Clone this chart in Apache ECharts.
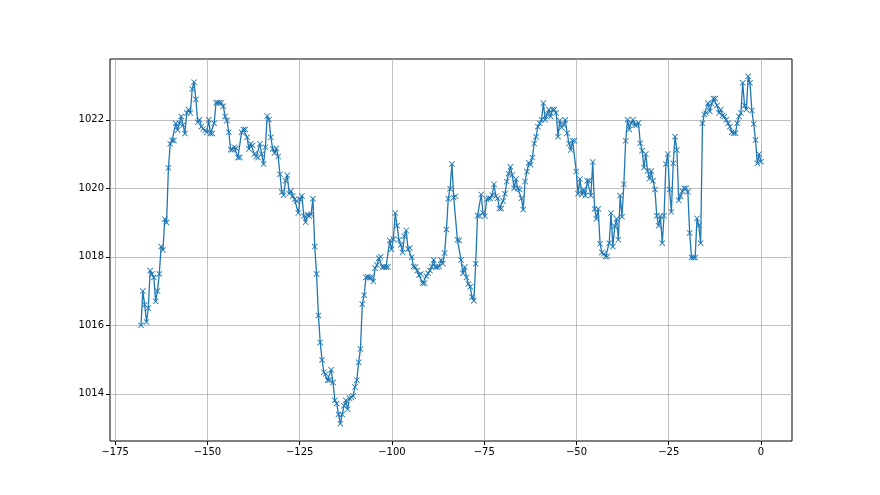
<!DOCTYPE html>
<html>
<head>
<meta charset="utf-8">
<script src="https://cdn.jsdelivr.net/npm/echarts@6/dist/echarts.min.js"></script>
<style>
  html, body { margin: 0; padding: 0; background: #fff; }
  #chart { width: 880px; height: 495px; }
</style>
</head>
<body>
<div id="chart"></div>
<script>
// hourly-ish pressure readings, first at -168, last at 0
const xStart = -168
const xEnd = 0
const pressure = [
  // -168 .. -145
  1016.0, 1017.0, 1016.6, 1016.1, 1016.5, 1017.6, 1017.5, 1017.4, 1016.7, 1017.0,
  1017.5, 1018.3, 1018.2, 1019.1, 1019.0, 1020.6, 1021.3, 1021.4, 1021.4, 1021.9,
  1021.7, 1021.9, 1022.1, 1021.85, 1021.6, 1022.2, 1022.3, 1022.2, 1022.9, 1023.1,
  1022.6, 1021.93, 1022.0, 1021.8, 1021.74, 1021.69, 1021.64, 1022.0, 1021.6, 1021.6,
  1021.9, 1022.5, 1022.5, 1022.5, 1022.5, 1022.4, 1022.1,
  // -144 .. -120
  1021.98, 1021.64, 1021.13, 1021.13, 1021.2, 1021.17, 1020.9, 1020.9, 1021.64, 1021.72,
  1021.72, 1021.49, 1021.15, 1021.3, 1021.25, 1021.0, 1020.93, 1020.9, 1021.3, 1021.0,
  1020.71, 1021.2, 1022.11, 1022.01, 1021.49, 1021.15, 1021.03, 1021.17, 1020.93, 1020.41,
  1019.89, 1019.8, 1020.22, 1020.38, 1019.85, 1019.92, 1019.78, 1019.68, 1019.63, 1019.28,
  1019.68, 1019.78, 1019.19, 1019.01, 1019.24, 1019.19, 1019.24, 1019.7, 1018.3, 1017.5,
  // -119 .. -97
  1016.29, 1015.5, 1014.99, 1014.63, 1014.58, 1014.4, 1014.4, 1014.7, 1014.33, 1013.81,
  1013.72, 1013.4, 1013.13, 1013.4, 1013.65, 1013.81, 1013.55, 1013.87, 1013.9, 1013.94,
  1014.2, 1014.4, 1014.92, 1015.31, 1016.62, 1016.88, 1017.4, 1017.42, 1017.4, 1017.4,
  1017.28, 1017.67, 1017.76, 1017.96, 1018.0, 1017.7, 1017.7, 1017.7, 1017.7, 1018.48,
  1018.22, 1018.52, 1019.28, 1018.91, 1018.5, 1018.35,
  // -96 .. -76
  1018.13, 1018.6, 1018.77, 1018.23, 1018.26, 1017.99, 1017.72, 1017.7, 1017.6, 1017.47,
  1017.5, 1017.23, 1017.23, 1017.44, 1017.52, 1017.6, 1017.72, 1017.91, 1017.7, 1017.7,
  1017.72, 1017.91, 1017.8, 1018.11, 1018.8, 1019.7, 1019.99, 1020.71, 1019.73, 1019.77,
  1018.5, 1018.48, 1017.91, 1017.52, 1017.7, 1017.4, 1017.21, 1017.13, 1016.83, 1016.72,
  1017.8, 1019.2, 1019.2, 1019.82,
  // -75 .. -49
  1019.28, 1019.19, 1019.68, 1019.71, 1019.71, 1019.8, 1020.12, 1019.77, 1019.71, 1019.41,
  1019.41, 1019.63, 1019.84, 1020.2, 1020.43, 1020.63, 1020.39, 1020.0, 1020.27, 1020.0,
  1019.97, 1019.71, 1019.38, 1020.2, 1020.49, 1020.75, 1020.69, 1020.9, 1021.31, 1021.51,
  1021.8, 1021.9, 1022.0, 1022.49, 1022.0, 1022.16, 1022.3, 1022.1, 1022.3, 1022.3,
  1022.2, 1021.51, 1021.98, 1021.78, 1021.86, 1022.0, 1021.61, 1021.31, 1021.12, 1021.39,
  1021.39, 1020.49, 1019.84,
  // -48 .. -25
  1020.27, 1019.82, 1019.97, 1019.79, 1020.22, 1020.22, 1019.79, 1020.77, 1019.4, 1019.11,
  1019.4, 1018.38, 1018.13, 1018.09, 1018.01, 1018.01, 1018.4, 1019.28, 1018.3, 1018.89,
  1019.11, 1018.5, 1019.79, 1019.17, 1020.12, 1021.39, 1022.0, 1021.72, 1021.91, 1022.0,
  1021.85, 1021.85, 1021.91, 1021.32, 1021.1, 1020.61, 1021.0, 1020.51, 1020.28, 1020.51,
  1020.22, 1019.97, 1019.2, 1018.91, 1019.19, 1018.4, 1019.2, 1020.71, 1021.0, 1019.97,
  // -24 .. 0
  1019.31, 1020.73, 1021.51, 1021.12, 1019.65, 1019.78, 1019.92, 1020.0, 1020.0, 1019.9,
  1018.7, 1017.98, 1017.98, 1017.98, 1019.12, 1018.92, 1018.4, 1021.9, 1022.16, 1022.2,
  1022.49, 1022.25, 1022.47, 1022.62, 1022.62, 1022.42, 1022.2, 1022.3, 1022.13, 1022.1,
  1022.0, 1021.9, 1021.8, 1021.64, 1021.61, 1021.61, 1021.9, 1022.1, 1022.2, 1023.08,
  1022.42, 1022.3, 1023.27, 1023.08, 1022.27, 1021.88, 1021.41, 1020.73, 1021.0, 1020.78
]
const xTicks = [-175, -150, -125, -100, -75, -50, -25, 0]
const yTicks = [1014, 1016, 1018, 1020, 1022]

const step = (xEnd - xStart) / (pressure.length - 1)
const points = pressure.map((v, i) => [xStart + i * step, v])

// matplotlib-like 5% margins
const yMin = Math.min(...pressure), yMax = Math.max(...pressure)
const xPad = (xEnd - xStart) * 0.05, yPad = (yMax - yMin) * 0.05

const crossMark = 'path://M0,1L1,0L5,4L9,0L10,1L6,5L10,9L9,10L5,6L1,10L0,9L4,5Z'
const axisText = { color: '#000', fontSize: 10, fontFamily: 'DejaVu Sans' }

const chart = echarts.init(document.getElementById('chart'))
chart.setOption({
  animation: false,
  grid: {
    left: 110, right: 88, top: 59, bottom: 54,
    show: true, borderColor: '#000', borderWidth: 1, backgroundColor: 'transparent',
  },
  xAxis: {
    type: 'value',
    min: xStart - xPad,
    max: xEnd + xPad,
    axisLine: { show: false, onZero: false },
    axisTick: { show: true, length: 4, inside: false, lineStyle: { color: '#000' }, customValues: xTicks },
    axisLabel: { ...axisText, margin: 6, customValues: xTicks, formatter: v => String(v).replace('-', '\u2212') },
    splitLine: { show: true, lineStyle: { color: '#b0b0b0', width: 0.8 } },
  },
  yAxis: {
    type: 'value',
    min: yMin - yPad,
    max: yMax + yPad,
    axisLine: { show: false, onZero: false },
    axisTick: { show: true, length: 4, inside: false, lineStyle: { color: '#000' }, customValues: yTicks },
    axisLabel: { ...axisText, margin: 6, customValues: yTicks, formatter: v => String(v) },
    splitLine: { show: true, lineStyle: { color: '#b0b0b0', width: 0.8 } },
  },
  series: [{
    type: 'line',
    data: points,
    showAllSymbol: true,
    symbol: crossMark,
    symbolSize: 6,
    lineStyle: { color: '#1f77b4', width: 1.3 },
    itemStyle: { color: '#1f77b4' },
  }],
})
</script>
</body>
</html>
